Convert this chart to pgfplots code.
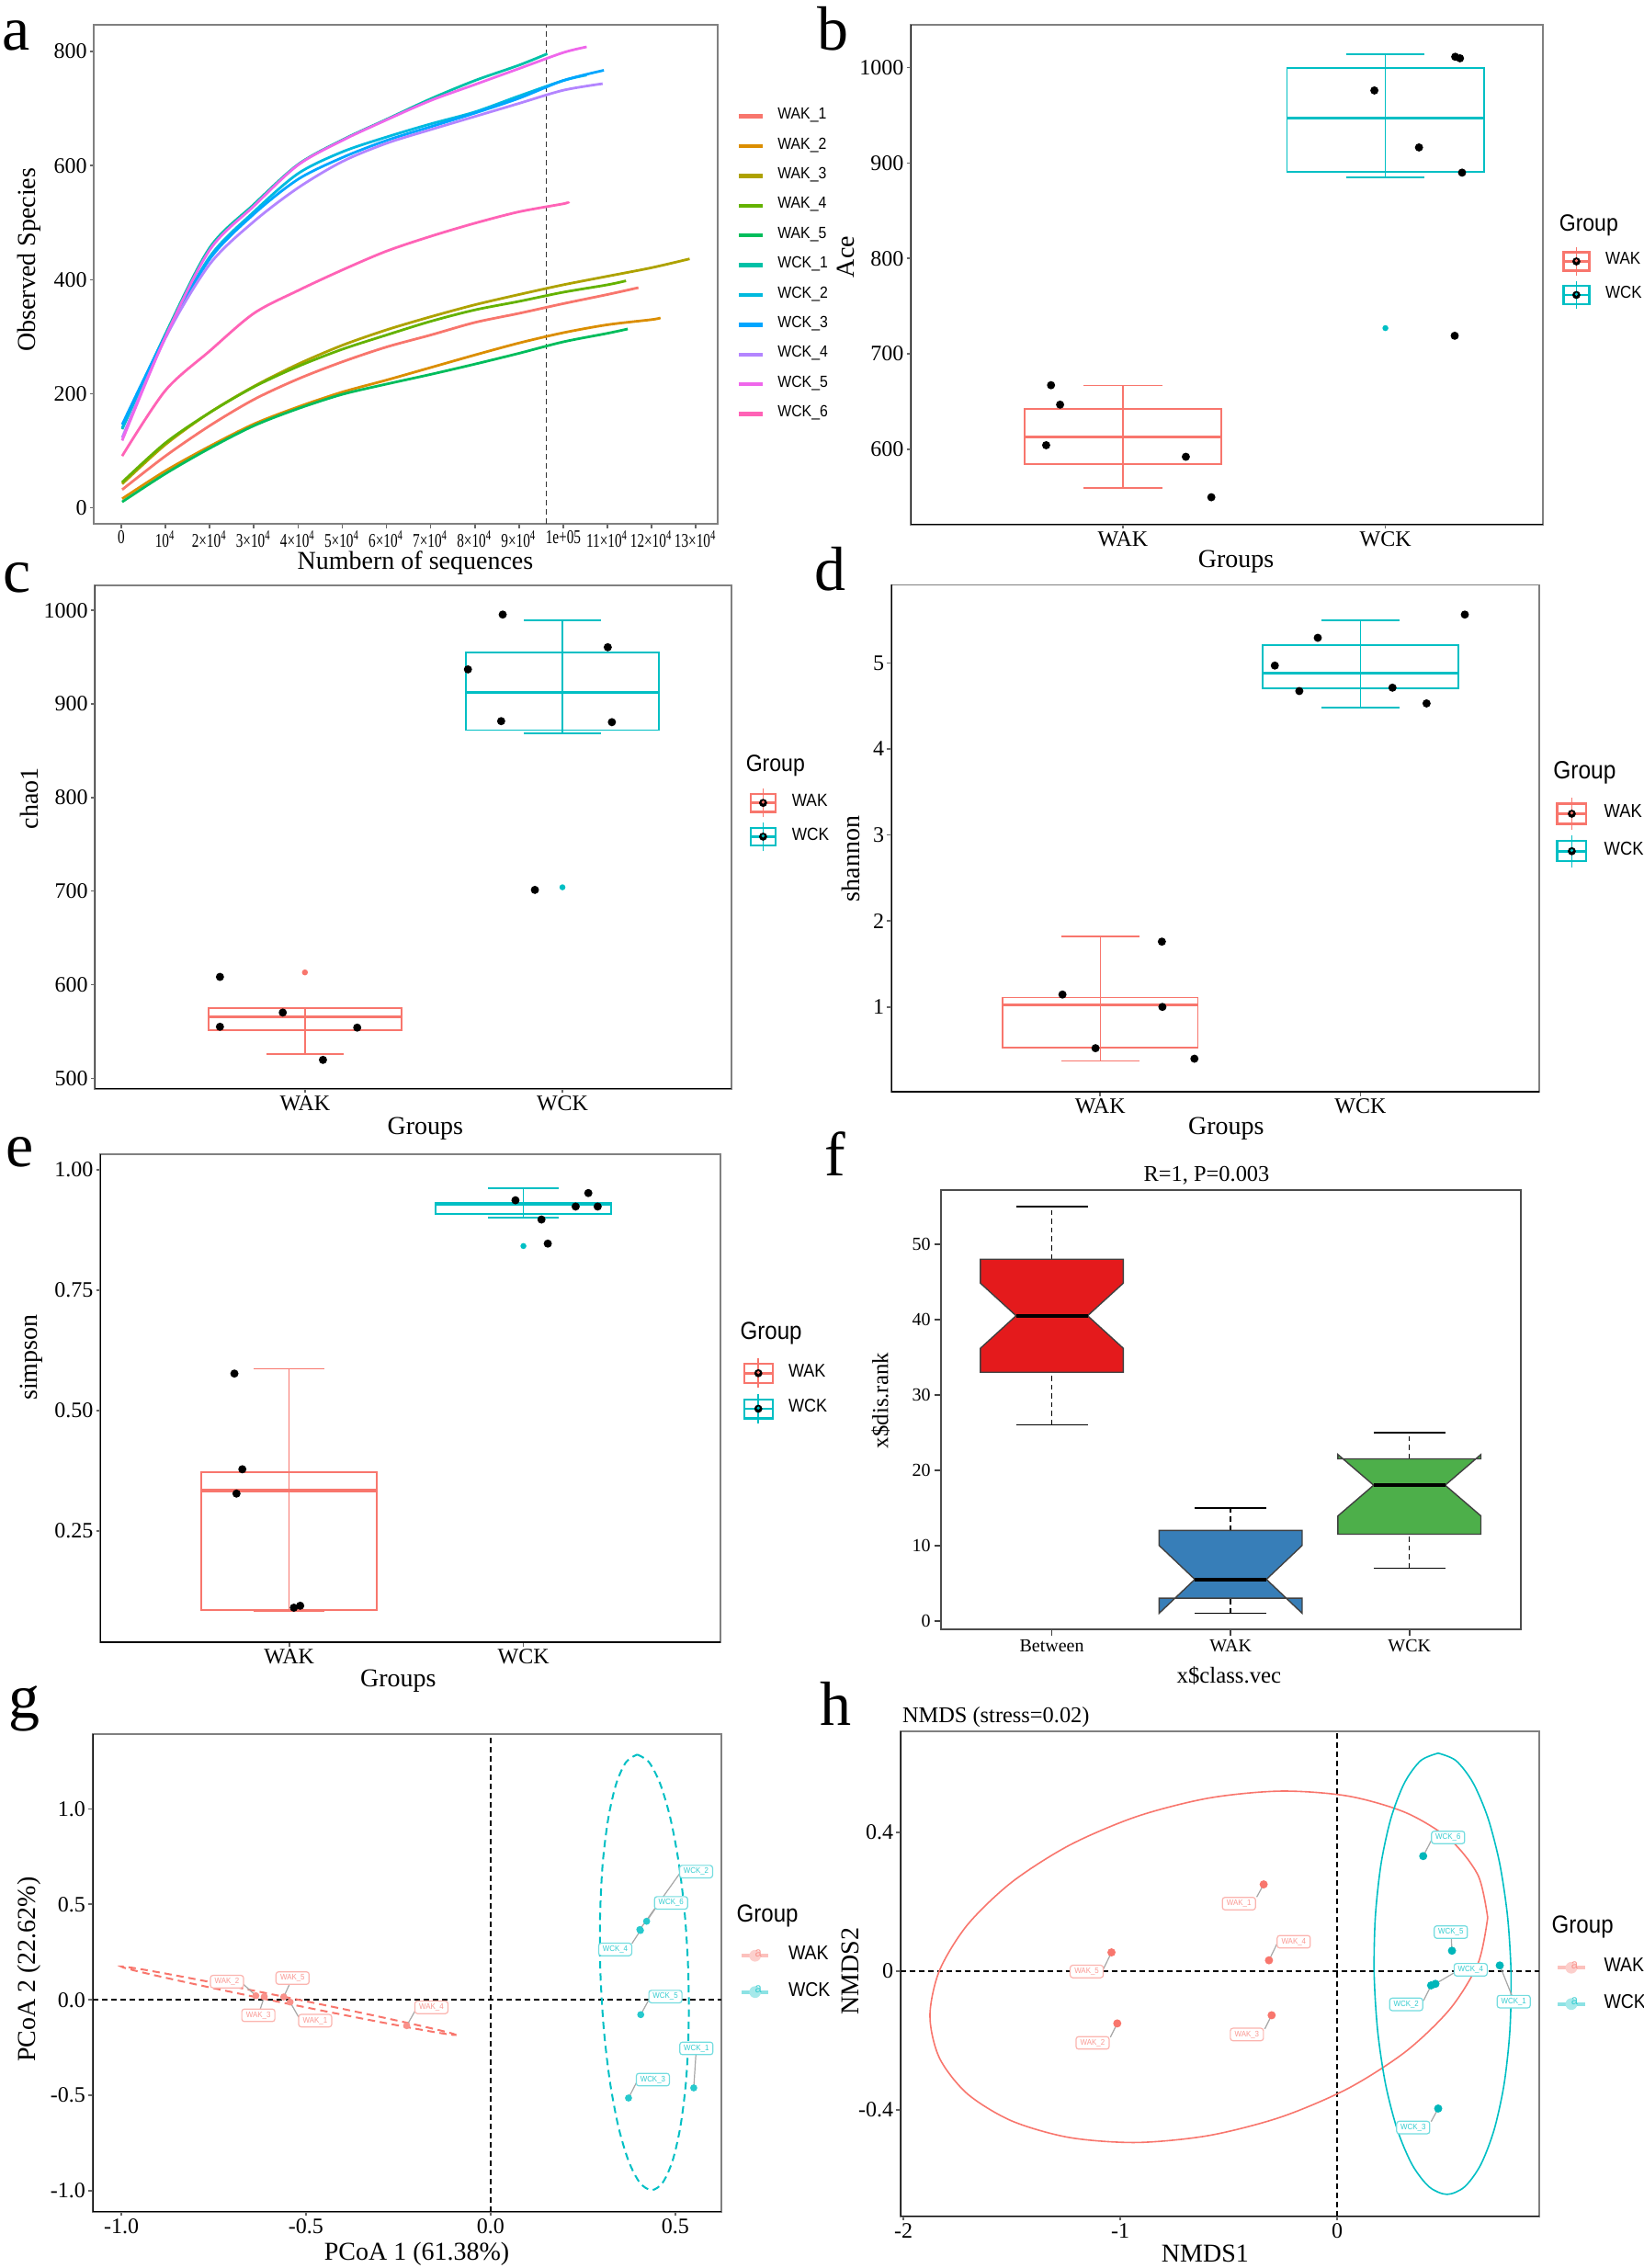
\documentclass[border=0pt]{standalone}
\usepackage{fontspec}
\setmainfont{Liberation Serif}
\newfontfamily\legfont[FakeStretch=0.9]{Liberation Sans}
\newfontfamily\condserif[FakeStretch=0.72]{Liberation Serif}
\usepackage{pgfplots}
\pgfplotsset{compat=1.18}
\definecolor{wakc}{HTML}{F8766D}
\definecolor{wckc}{HTML}{00BFC4}
\definecolor{cA}{HTML}{F8766D}
\definecolor{cB}{HTML}{DB8E00}
\definecolor{cC}{HTML}{AEA200}
\definecolor{cD}{HTML}{64B200}
\definecolor{cE}{HTML}{00BD5C}
\definecolor{cF}{HTML}{00C1A7}
\definecolor{cG}{HTML}{00BADE}
\definecolor{cH}{HTML}{00A6FF}
\definecolor{cI}{HTML}{B385FF}
\definecolor{cJ}{HTML}{EF67EB}
\definecolor{cK}{HTML}{FF63B6}
\definecolor{setred}{HTML}{E41A1C}
\definecolor{setblue}{HTML}{377EB8}
\definecolor{setgreen}{HTML}{4DAF4A}
\newcommand{\fs}[1]{\fontsize{#1}{#1}\selectfont}
\newcommand{\boxkey}[6]{%
  \path[draw=none, fill=none] (0pt,-#6) rectangle (#2,#6);%
  \draw[#1, fill=none, line width=0.4pt] (#3,-#5) -- (#3,#5);%
  \draw[#1, fill=none, line width=0.55pt] (0pt,-#4) rectangle (#2,#4);%
  \draw[#1, fill=none, line width=0.7pt] (0pt,0pt) -- (#2,0pt);%
  \fill[black, draw=none] (#3,0pt) circle (1.1pt);%
  \fill[#1, draw=none] (#3,0.2pt) circle (0.45pt);%
}
\newcommand{\labkey}[4]{%
  \path[draw=none, fill=none] (0pt,-#4) rectangle (#2,#4);%
  \draw[#1!45, fill=none, line width=0.9pt] (0pt,0pt) -- (#2,0pt);%
  \fill[#1!35, draw=none] (#3,0pt) circle (1.6pt);%
  \node[text=#1!75, draw=none, fill=none, font=\legfont\fs{3.6}, inner sep=0pt] at (#3,0pt) {a};%
}
\newcommand{\lbaxis}{\draw[black, line width=0.5pt] (rel axis cs:0,1) -- (rel axis cs:0,0) -- (rel axis cs:1,0);}
\tikzset{
  labw/.style={draw=wakc!55, fill=white, text=wakc!75, rounded corners=0.7pt, inner sep=0pt, minimum width=9pt, minimum height=3.4pt, line width=0.3pt, font=\legfont\fs{2.2}},
  labc/.style={draw=wckc!55, fill=white, text=wckc!80, rounded corners=0.7pt, inner sep=0pt, minimum width=9pt, minimum height=3.4pt, line width=0.3pt, font=\legfont\fs{2.2}},
}
\pgfplotsset{
  gg/.style={scale only axis, anchor=south west,
    axis line style={black!50, line width=0.45pt},
    tick align=outside, tick pos=left, major tick length=1.1pt,
    tick style={black!60, line width=0.4pt},
    ticklabel style={font=\fs{6}, inner sep=0.6pt},
    /pgf/number format/assume math mode=true,
    scaled ticks=false, legend cell align=left},
  leg/.style n args={4}{legend style={at={(axis description cs:#1,#2)}, anchor=north west, draw=none, fill=none, inner sep=0pt, outer sep=0pt, row sep=0pt, column sep=#3, nodes={inner sep=0pt, outer sep=0pt, font=\legfont\fs{#4}}}},
}
\begin{document}
\begin{tikzpicture}
\useasboundingbox (0pt,0pt) rectangle (447pt,-617pt);

% ================= a =================
\begin{axis}[gg, at={(25.55pt,-142.55pt)}, width=169.6pt, height=135.8pt,
  xmin=-6195, xmax=134865, ymin=-28.2, ymax=846.7,
  xtick={0,10000,20000,30000,40000,50000,60000,70000,80000,90000,100000,110000,120000,130000},
  xticklabels={0,10\textsuperscript{4},2×10\textsuperscript{4},3×10\textsuperscript{4},4×10\textsuperscript{4},5×10\textsuperscript{4},6×10\textsuperscript{4},7×10\textsuperscript{4},8×10\textsuperscript{4},9×10\textsuperscript{4},1e+05,11×10\textsuperscript{4},12×10\textsuperscript{4},13×10\textsuperscript{4}},
  xticklabel style={font=\condserif\fs{5.3}},
  ytick={0,200,400,600,800}, yticklabels={0,200,400,600,800},
  leg={1.0314}{0.8465}{3.5pt}{4.4},
  legend image code/.code={\path[draw=none, fill=none] (0pt,-4.05pt) rectangle (6.5pt,4.05pt); \draw[#1, line width=1.1pt] (0pt,0pt) -- (6.5pt,0pt);},
]
\addplot[black!80, line width=0.4pt, dash pattern=on 1.5pt off 1pt, forget plot] coordinates {(96200,-28.2) (96200,846.7)};
\addplot[cA, line width=0.7pt, smooth] coordinates {(200,32) (10000,91) (20000,144) (30000,190) (40000,226) (50000,256) (60000,282) (70000,303) (80000,325) (90000,341) (100000,358) (110000,374) (117000,386)};
\addlegendentry{WAK\_1}
\addplot[cB, line width=0.7pt, smooth] coordinates {(200,16) (10000,65) (20000,108) (30000,147) (40000,177) (50000,203) (60000,224) (70000,246) (80000,268) (90000,289) (100000,307) (110000,321) (120000,330) (122000,333)};
\addlegendentry{WAK\_2}
\addplot[cC, line width=0.7pt, smooth] coordinates {(200,42) (10000,111) (20000,167) (30000,213) (40000,252) (50000,285) (60000,312) (70000,335) (80000,356) (90000,374) (100000,391) (110000,406) (120000,421) (128600,436.5)};
\addlegendentry{WAK\_3}
\addplot[cD, line width=0.7pt, smooth] coordinates {(200,45) (10000,114) (20000,167) (30000,212) (40000,248) (50000,278) (60000,303) (70000,327) (80000,347) (90000,362) (100000,378) (110000,391) (114200,398)};
\addlegendentry{WAK\_4}
\addplot[cE, line width=0.7pt, smooth] coordinates {(200,10.5) (10000,60) (20000,104.5) (30000,144) (40000,174) (50000,199) (60000,217) (70000,234) (80000,252) (90000,271) (100000,291) (110000,306) (114600,313.6)};
\addlegendentry{WAK\_5}
\addplot[cF, line width=0.7pt, smooth] coordinates {(200,138) (10000,305) (20000,456) (30000,532) (40000,602) (50000,645) (60000,681) (70000,717) (80000,749) (90000,776) (96400,796)};
\addlegendentry{WCK\_1}
\addplot[cG, line width=0.7pt, smooth] coordinates {(200,140) (10000,300) (20000,440) (30000,519) (40000,586) (50000,624) (60000,650) (70000,673) (80000,694) (90000,722) (100000,749) (105300,758.6)};
\addlegendentry{WCK\_2}
\addplot[cH, line width=0.7pt, smooth] coordinates {(200,146) (10000,302) (20000,436) (30000,515) (40000,576) (50000,614) (60000,644) (70000,668) (80000,692) (90000,718) (100000,749) (109200,767)};
\addlegendentry{WCK\_3}
\addplot[cI, line width=0.7pt, smooth] coordinates {(200,123) (10000,298) (20000,427) (30000,502) (40000,561) (50000,607) (60000,639) (70000,663) (80000,686) (90000,709) (100000,732) (108900,743.5)};
\addlegendentry{WCK\_4}
\addplot[cJ, line width=0.7pt, smooth] coordinates {(200,118) (10000,300) (20000,452) (30000,529) (40000,601) (50000,644) (60000,680) (70000,714) (80000,742) (90000,770) (100000,798) (105300,808)};
\addlegendentry{WCK\_5}
\addplot[cK, line width=0.7pt, smooth] coordinates {(200,91) (10000,206) (20000,275) (30000,341) (40000,381) (50000,417) (60000,450) (70000,476) (80000,499) (90000,519) (100000,533) (101000,536)};
\addlegendentry{WCK\_6}
\end{axis}

% ================= b =================
\begin{axis}[gg, at={(247.75pt,-142.75pt)}, width=172pt, height=136pt,
  xmin=0.192, xmax=2.60, ymin=521, ymax=1044.8,
  xtick={1,2}, xticklabels={WAK,WCK},
  ytick={600,700,800,900,1000}, yticklabels={600,700,800,900,1000},
  leg={1.0305}{0.5602}{4.1pt}{4.7}]
\addplot[wakc, line width=0.35pt, forget plot] coordinates {(1,559.6) (1,666.8)};
\addplot[wakc, line width=0.45pt, forget plot] coordinates {(0.85,559.6) (1.15,559.6)};
\addplot[wakc, line width=0.45pt, forget plot] coordinates {(0.85,666.8) (1.15,666.8)};
\addplot[wakc, line width=0.45pt, forget plot] coordinates {(0.625,584.3) (1.375,584.3) (1.375,642.4) (0.625,642.4)} --cycle;
\addplot[wakc, line width=0.8pt, forget plot] coordinates {(0.625,613) (1.375,613)};
\addplot[wckc, line width=0.35pt, forget plot] coordinates {(2,885.3) (2,1013.7)};
\addplot[wckc, line width=0.45pt, forget plot] coordinates {(1.85,885.3) (2.15,885.3)};
\addplot[wckc, line width=0.45pt, forget plot] coordinates {(1.85,1013.7) (2.15,1013.7)};
\addplot[wckc, line width=0.45pt, forget plot] coordinates {(1.625,891.1) (2.375,891.1) (2.375,999.2) (1.625,999.2)} --cycle;
\addplot[wckc, line width=0.8pt, forget plot] coordinates {(1.625,946.9) (2.375,946.9)};
\addplot[only marks, mark=*, mark size=0.6pt, wckc, forget plot] coordinates {(2,727)};
\addplot[only marks, mark=*, mark size=0.9pt, black, forget plot] coordinates {(0.7265,667.2) (0.761,646.8) (0.708,604.3) (1.240,592.2) (1.337,549.8) (1.958,976) (2.128,916.3) (2.292,889.9) (2.266,1011.3) (2.284,1009.7) (2.264,719)};
\lbaxis
\addlegendimage{legend image code/.code={\boxkey{wakc}{7pt}{3.5pt}{2.5pt}{3.8pt}{4.5625pt}}}
\addlegendentry{WAK}
\addlegendimage{legend image code/.code={\boxkey{wckc}{7pt}{3.5pt}{2.5pt}{3.8pt}{4.5625pt}}}
\addlegendentry{WCK}
\end{axis}

% ================= c =================
\begin{axis}[gg, at={(25.825pt,-296.175pt)}, width=173.075pt, height=136.95pt,
  xmin=0.1845, xmax=2.655, ymin=488.8, ymax=1026.9,
  xtick={1,2}, xticklabels={WAK,WCK},
  ytick={500,600,700,800,900,1000}, yticklabels={500,600,700,800,900,1000},
  leg={1.0283}{0.6012}{4.05pt}{4.8}]
\addplot[wakc, line width=0.35pt, forget plot] coordinates {(1,526.1) (1,575.0)};
\addplot[wakc, line width=0.45pt, forget plot] coordinates {(0.85,526.1) (1.15,526.1)};
\addplot[wakc, line width=0.45pt, forget plot] coordinates {(0.625,551.4) (1.375,551.4) (1.375,575.0) (0.625,575.0)} --cycle;
\addplot[wakc, line width=0.8pt, forget plot] coordinates {(0.625,565.8) (1.375,565.8)};
\addplot[wckc, line width=0.35pt, forget plot] coordinates {(2,868.9) (2,989.2)};
\addplot[wckc, line width=0.45pt, forget plot] coordinates {(1.85,868.9) (2.15,868.9)};
\addplot[wckc, line width=0.45pt, forget plot] coordinates {(1.85,989.2) (2.15,989.2)};
\addplot[wckc, line width=0.45pt, forget plot] coordinates {(1.625,872.1) (2.375,872.1) (2.375,955.1) (1.625,955.1)} --cycle;
\addplot[wckc, line width=0.8pt, forget plot] coordinates {(1.625,912.2) (2.375,912.2)};
\addplot[only marks, mark=*, mark size=0.6pt, wakc, forget plot] coordinates {(1.0,613.1)};
\addplot[only marks, mark=*, mark size=0.6pt, wckc, forget plot] coordinates {(2,704.1)};
\addplot[only marks, mark=*, mark size=0.9pt, black, forget plot] coordinates {(0.670,608.3) (0.914,570.2) (0.670,555) (1.203,554.1) (1.070,519.6) (1.768,995.6) (2.176,960.7) (1.633,937) (1.762,881.7) (2.192,880.6) (1.893,701.3)};
\lbaxis
\addlegendimage{legend image code/.code={\boxkey{wakc}{6.9pt}{3.45pt}{2.45pt}{3.9pt}{4.5875pt}}}
\addlegendentry{WAK}
\addlegendimage{legend image code/.code={\boxkey{wckc}{6.9pt}{3.45pt}{2.45pt}{3.9pt}{4.5875pt}}}
\addlegendentry{WCK}
\end{axis}

% ================= d =================
\begin{axis}[gg, at={(242.45pt,-297.1pt)}, width=176.3pt, height=137.975pt,
  xmin=0.197, xmax=2.687, ymin=0.0096, ymax=5.907,
  xtick={1,2}, xticklabels={WAK,WCK},
  ytick={1,2,3,4,5}, yticklabels={1,2,3,4,5},
  leg={1.0257}{0.5858}{4.5pt}{5.1}]
\addplot[wakc, line width=0.35pt, forget plot] coordinates {(1,0.372) (1,1.824)};
\addplot[wakc, line width=0.45pt, forget plot] coordinates {(0.85,0.372) (1.15,0.372)};
\addplot[wakc, line width=0.45pt, forget plot] coordinates {(0.85,1.824) (1.15,1.824)};
\addplot[wakc, line width=0.45pt, forget plot] coordinates {(0.625,0.529) (1.375,0.529) (1.375,1.109) (0.625,1.109)} --cycle;
\addplot[wakc, line width=0.8pt, forget plot] coordinates {(0.625,1.026) (1.375,1.026)};
\addplot[wckc, line width=0.35pt, forget plot] coordinates {(2,4.481) (2,5.493)};
\addplot[wckc, line width=0.45pt, forget plot] coordinates {(1.85,4.481) (2.15,4.481)};
\addplot[wckc, line width=0.45pt, forget plot] coordinates {(1.85,5.493) (2.15,5.493)};
\addplot[wckc, line width=0.45pt, forget plot] coordinates {(1.625,4.707) (2.375,4.707) (2.375,5.209) (1.625,5.209)} --cycle;
\addplot[wckc, line width=0.8pt, forget plot] coordinates {(1.625,4.882) (2.375,4.882)};
\addplot[only marks, mark=*, mark size=0.9pt, black, forget plot] coordinates {(0.855,1.144) (0.982,0.520) (1.237,1.759) (1.239,1.0) (1.362,0.398) (1.671,4.969) (1.765,4.673) (1.836,5.292) (2.123,4.712) (2.254,4.529) (2.401,5.562)};
\lbaxis
\addlegendimage{legend image code/.code={\boxkey{wakc}{7.95pt}{3.975pt}{2.75pt}{4.4pt}{5.1pt}}}
\addlegendentry{WAK}
\addlegendimage{legend image code/.code={\boxkey{wckc}{7.95pt}{3.975pt}{2.75pt}{4.4pt}{5.1pt}}}
\addlegendentry{WCK}
\end{axis}

% ================= e =================
\begin{axis}[gg, at={(27.25pt,-446.825pt)}, width=168.8pt, height=132.85pt,
  xmin=0.193, xmax=2.842, ymin=0.0187, ymax=1.0328,
  xtick={1,2}, xticklabels={WAK,WCK},
  ytick={0.25,0.5,0.75,1}, yticklabels={0.25,0.50,0.75,1.00},
  leg={1.0357}{0.5878}{4pt}{5}]
\addplot[wakc, line width=0.35pt, forget plot] coordinates {(1,0.0847) (1,0.5872)};
\addplot[wakc, line width=0.45pt, forget plot] coordinates {(0.85,0.0847) (1.15,0.0847)};
\addplot[wakc, line width=0.45pt, forget plot] coordinates {(0.85,0.5872) (1.15,0.5872)};
\addplot[wakc, line width=0.45pt, forget plot] coordinates {(0.625,0.0865) (1.375,0.0865) (1.375,0.3731) (0.625,0.3731)} --cycle;
\addplot[wakc, line width=0.8pt, forget plot] coordinates {(0.625,0.3342) (1.375,0.3342)};
\addplot[wckc, line width=0.35pt, forget plot] coordinates {(2,0.9004) (2,0.9626)};
\addplot[wckc, line width=0.45pt, forget plot] coordinates {(1.85,0.9004) (2.15,0.9004)};
\addplot[wckc, line width=0.45pt, forget plot] coordinates {(1.85,0.9626) (2.15,0.9626)};
\addplot[wckc, line width=0.45pt, forget plot] coordinates {(1.625,0.9082) (2.375,0.9082) (2.375,0.9323) (1.625,0.9323)} --cycle;
\addplot[wckc, line width=0.8pt, forget plot] coordinates {(1.625,0.9284) (2.375,0.9284)};
\addplot[only marks, mark=*, mark size=0.6pt, wckc, forget plot] coordinates {(2,0.842)};
\addplot[only marks, mark=*, mark size=0.9pt, black, forget plot] coordinates {(0.766,0.5771) (0.800,0.3784) (0.775,0.3279) (1.020,0.0910) (1.047,0.0950) (1.966,0.937) (2.077,0.897) (2.223,0.924) (2.277,0.952) (2.317,0.924) (2.104,0.847)};
\lbaxis
\addlegendimage{legend image code/.code={\boxkey{wakc}{7.75pt}{3.875pt}{2.6pt}{4pt}{4.8375pt}}}
\addlegendentry{WAK}
\addlegendimage{legend image code/.code={\boxkey{wckc}{7.75pt}{3.875pt}{2.6pt}{4pt}{4.8375pt}}}
\addlegendentry{WCK}
\end{axis}

% ================= f =================
\begin{axis}[scale only axis, anchor=south west, at={(255.9pt,-443.275pt)}, width=157.775pt, height=119.6pt,
  xmin=0.378, xmax=3.622, ymin=-1.147, ymax=57.22,
  axis line style={black!70, line width=0.45pt},
  tick align=outside, tick pos=left, major tick length=1.75pt,
  tick style={black!75, line width=0.4pt},
  ticklabel style={font=\fs{5}, inner sep=0.8pt},
  /pgf/number format/assume math mode=true,
  xtick={1,2,3}, xticklabels={Between,WAK,WCK},
  ytick={0,10,20,30,40,50}, yticklabels={0,10,20,30,40,50}]
\addplot[black, line width=0.35pt, dash pattern=on 1.4pt off 1pt] coordinates {(1,26) (1,33)};
\addplot[black, line width=0.35pt, dash pattern=on 1.4pt off 1pt] coordinates {(1,48) (1,55)};
\addplot[black, line width=0.4pt] coordinates {(0.8,26) (1.2,26)};
\addplot[black, line width=0.4pt] coordinates {(0.8,55) (1.2,55)};
\addplot[fill=setred, draw=black!75, line width=0.35pt] coordinates {(0.6,33) (1.4,33) (1.4,36.17) (1.2,40.5) (1.4,44.83) (1.4,48) (0.6,48) (0.6,44.83) (0.8,40.5) (0.6,36.17)} --cycle;
\addplot[black, line width=1pt] coordinates {(0.8,40.5) (1.2,40.5)};
\addplot[black, line width=0.35pt, dash pattern=on 1.4pt off 1pt] coordinates {(2,1) (2,3)};
\addplot[black, line width=0.35pt, dash pattern=on 1.4pt off 1pt] coordinates {(2,12) (2,15)};
\addplot[black, line width=0.4pt] coordinates {(1.8,1) (2.2,1)};
\addplot[black, line width=0.4pt] coordinates {(1.8,15) (2.2,15)};
\addplot[fill=setblue, draw=black!75, line width=0.35pt] coordinates {(1.6,3) (2.4,3) (2.4,1.0) (2.2,5.5) (2.4,10.0) (2.4,12) (1.6,12) (1.6,10.0) (1.8,5.5) (1.6,1.0)} --cycle;
\addplot[black, line width=1pt] coordinates {(1.8,5.5) (2.2,5.5)};
\addplot[black, line width=0.35pt, dash pattern=on 1.4pt off 1pt] coordinates {(3,7) (3,11.5)};
\addplot[black, line width=0.35pt, dash pattern=on 1.4pt off 1pt] coordinates {(3,21.5) (3,25)};
\addplot[black, line width=0.4pt] coordinates {(2.8,7) (3.2,7)};
\addplot[black, line width=0.4pt] coordinates {(2.8,25) (3.2,25)};
\addplot[fill=setgreen, draw=black!75, line width=0.35pt] coordinates {(2.6,11.5) (3.4,11.5) (3.4,13.92) (3.2,18) (3.4,22.08) (3.4,21.5) (2.6,21.5) (2.6,22.08) (2.8,18) (2.6,13.92)} --cycle;
\addplot[black, line width=1pt] coordinates {(2.8,18) (3.2,18)};
\end{axis}

% ================= g =================
\begin{axis}[gg, at={(25.125pt,-601.725pt)}, width=171.2pt, height=129.975pt,
  xmin=-1.0784, xmax=0.6257, ymin=-1.1097, ymax=1.391,
  xtick={-1,-0.5,0,0.5}, xticklabels={-1.0,-0.5,0.0,0.5},
  ytick={-1,-0.5,0,0.5,1}, yticklabels={-1.0,-0.5,0.0,0.5,1.0},
  leg={1.0292}{0.5741}{5pt}{5.4}]
\addplot[black, line width=0.45pt, dash pattern=on 1.5pt off 1pt, forget plot] coordinates {(-1.0784,0) (0.6257,0)};
\addplot[black, line width=0.35pt, dash pattern=on 1.5pt off 1pt, forget plot] coordinates {(0,-1.1097) (0,1.391)};
\addplot[wakc, line width=0.5pt, dash pattern=on 2pt off 1.3pt, smooth, forget plot] coordinates {(-0.0928,-0.1842) (-0.1069,-0.1745) (-0.1509,-0.1532) (-0.2218,-0.1218) (-0.3148,-0.0825) (-0.4237,-0.0379) (-0.5409,0.0090) (-0.6585,0.0549) (-0.7684,0.0967) (-0.8632,0.1316) (-0.9365,0.1572) (-0.9831,0.1717) (-1.0000,0.1742) (-0.9859,0.1645) (-0.9420,0.1432) (-0.8710,0.1118) (-0.7780,0.0725) (-0.6691,0.0279) (-0.5519,-0.0190) (-0.4343,-0.0649) (-0.3244,-0.1067) (-0.2296,-0.1416) (-0.1564,-0.1672) (-0.1097,-0.1817) (-0.0928,-0.1842)};
\addplot[wckc, line width=0.5pt, dash pattern=on 2pt off 1.3pt, smooth, forget plot] coordinates {(0.3971,1.2838) (0.4286,1.2450) (0.4592,1.1311) (0.4869,0.9499) (0.5098,0.7139) (0.5263,0.4389) (0.5354,0.1439) (0.5363,-0.1511) (0.5292,-0.4261) (0.5141,-0.6621) (0.4926,-0.8433) (0.4658,-0.9572) (0.4357,-0.9960) (0.4042,-0.9572) (0.3736,-0.8433) (0.3459,-0.6621) (0.3230,-0.4261) (0.3065,-0.1511) (0.2974,0.1439) (0.2965,0.4389) (0.3036,0.7139) (0.3187,0.9499) (0.3402,1.1311) (0.3670,1.2450) (0.3971,1.2838)};
\addplot[black!35, line width=0.3pt, forget plot] coordinates {(-0.6357,0.0216) (-0.6691,0.0812)};
\addplot[black!35, line width=0.3pt, forget plot] coordinates {(-0.6128,0.0173) (-0.6235,-0.0471)};
\addplot[black!35, line width=0.3pt, forget plot] coordinates {(-0.5601,0.0154) (-0.5447,0.0813)};
\addplot[black!35, line width=0.3pt, forget plot] coordinates {(-0.5429,-0.0115) (-0.5198,-0.0904)};
\addplot[black!35, line width=0.3pt, forget plot] coordinates {(-0.2272,-0.1352) (-0.2045,-0.0582)};
\addplot[black!35, line width=0.3pt, forget plot] coordinates {(0.4041,0.3680) (0.5128,0.6633)};
\addplot[black!35, line width=0.3pt, forget plot] coordinates {(0.4225,0.4113) (0.4464,0.4786)};
\addplot[black!35, line width=0.3pt, forget plot] coordinates {(0.4058,0.3632) (0.3827,0.2944)};
\addplot[black!35, line width=0.3pt, forget plot] coordinates {(0.4066,-0.0774) (0.4300,0.0058)};
\addplot[black!35, line width=0.3pt, forget plot] coordinates {(0.5501,-0.4608) (0.5559,-0.2876)};
\addplot[black!35, line width=0.3pt, forget plot] coordinates {(0.3735,-0.5137) (0.3966,-0.4271)};
\addplot[only marks, mark=*, mark size=0.75pt, wakc!80, forget plot] coordinates {(-0.6357,0.0216) (-0.6128,0.0173) (-0.5601,0.0154) (-0.5429,-0.0115) (-0.2272,-0.1352)};
\addplot[only marks, mark=*, mark size=0.75pt, wckc!85, forget plot] coordinates {(0.4225,0.4113) (0.4041,0.3680) (0.4058,0.3632) (0.4066,-0.0774) (0.3735,-0.5137) (0.5501,-0.4608)};
\node[labw] at (axis cs:-0.7139,0.0955) {WAK\_2};
\node[labw] at (axis cs:-0.5363,0.1140) {WAK\_5};
\node[labw] at (axis cs:-0.6289,-0.0808) {WAK\_3};
\node[labw] at (axis cs:-0.4750,-0.1089) {WAK\_1};
\node[labw] at (axis cs:-0.1603,-0.0392) {WAK\_4};
\node[labc] at (axis cs:0.5564,0.6712) {WCK\_2};
\node[labc] at (axis cs:0.4887,0.5077) {WCK\_6};
\node[labc] at (axis cs:0.3374,0.2638) {WCK\_4};
\node[labc] at (axis cs:0.4734,0.0171) {WCK\_5};
\node[labc] at (axis cs:0.5572,-0.2540) {WCK\_1};
\node[labc] at (axis cs:0.4394,-0.4175) {WCK\_3};
\lbaxis
\addlegendimage{legend image code/.code={\labkey{wakc}{7.3pt}{3.65pt}{4.94pt}}}
\addlegendentry{WAK}
\addlegendimage{legend image code/.code={\labkey{wckc}{7.3pt}{3.65pt}{4.94pt}}}
\addlegendentry{WCK}
\end{axis}

% ================= h =================
\begin{axis}[gg, at={(244.9pt,-602.95pt)}, width=173.85pt, height=131.925pt,
  xmin=-2.0148, xmax=0.9324, ymin=-0.7074, ymax=0.6913,
  xtick={-2,-1,0}, xticklabels={-2,-1,0},
  ytick={-0.4,0,0.4}, yticklabels={-0.4,0,0.4},
  leg={1.0266}{0.5502}{4.8pt}{5.4}]
\addplot[black, line width=0.45pt, dash pattern=on 1.5pt off 1pt, forget plot] coordinates {(-2.0148,0) (0.9324,0)};
\addplot[black, line width=0.35pt, dash pattern=on 1.5pt off 1pt, forget plot] coordinates {(0,-0.7074) (0,0.6913)};
\addplot[wakc, line width=0.4pt, smooth, forget plot] coordinates {(0.6945,0.1543) (0.6507,0.2755) (0.5222,0.3787) (0.3178,0.4569) (0.0515,0.5049) (-0.2588,0.5193) (-0.5916,0.4992) (-0.9244,0.4459) (-1.2347,0.3631) (-1.5010,0.2563) (-1.7054,0.1331) (-1.8339,0.0015) (-1.8777,-0.1293) (-1.8339,-0.2505) (-1.7054,-0.3537) (-1.5010,-0.4319) (-1.2347,-0.4799) (-0.9244,-0.4943) (-0.5916,-0.4742) (-0.2588,-0.4209) (0.0515,-0.3381) (0.3178,-0.2313) (0.5222,-0.1081) (0.6507,0.0235) (0.6945,0.1543)};
\addplot[wckc, line width=0.4pt, smooth, forget plot] coordinates {(0.4662,0.6287) (0.5486,0.6070) (0.6268,0.5434) (0.6954,0.4423) (0.7498,0.3106) (0.7862,0.1571) (0.8023,-0.0076) (0.7968,-0.1723) (0.7702,-0.3258) (0.7242,-0.4575) (0.6622,-0.5586) (0.5880,-0.6222) (0.5070,-0.6439) (0.4246,-0.6222) (0.3464,-0.5586) (0.2778,-0.4575) (0.2234,-0.3258) (0.1870,-0.1723) (0.1709,-0.0076) (0.1764,0.1571) (0.2030,0.3106) (0.2490,0.4423) (0.3110,0.5434) (0.3852,0.6070) (0.4662,0.6287)};
\addplot[black!35, line width=0.3pt, forget plot] coordinates {(-0.3386,0.2502) (-0.3708,0.2136)};
\addplot[black!35, line width=0.3pt, forget plot] coordinates {(-0.3141,0.0313) (-0.2772,0.0787)};
\addplot[black!35, line width=0.3pt, forget plot] coordinates {(-1.0405,0.0541) (-1.0799,0.0032)};
\addplot[black!35, line width=0.3pt, forget plot] coordinates {(-1.0138,-0.1508) (-1.0456,-0.1908)};
\addplot[black!35, line width=0.3pt, forget plot] coordinates {(-0.3018,-0.1272) (-0.3340,-0.1670)};
\addplot[black!35, line width=0.3pt, forget plot] coordinates {(0.3971,0.3318) (0.4336,0.3758)};
\addplot[black!35, line width=0.3pt, forget plot] coordinates {(0.5298,0.0588) (0.5268,0.0941)};
\addplot[black!35, line width=0.3pt, forget plot] coordinates {(0.4535,-0.0366) (0.5370,-0.0058)};
\addplot[black!35, line width=0.3pt, forget plot] coordinates {(0.4336,-0.0411) (0.3984,-0.0853)};
\addplot[black!35, line width=0.3pt, forget plot] coordinates {(0.7502,0.0164) (0.8053,-0.0694)};
\addplot[black!35, line width=0.3pt, forget plot] coordinates {(0.4662,-0.3963) (0.4336,-0.4341)};
\addplot[only marks, mark=*, mark size=0.9pt, wakc, forget plot] coordinates {(-0.3386,0.2502) (-0.3141,0.0313) (-1.0405,0.0541) (-1.0138,-0.1508) (-0.3018,-0.1272)};
\addplot[only marks, mark=*, mark size=0.9pt, wckc!95!black, forget plot] coordinates {(0.3971,0.3318) (0.5298,0.0588) (0.7502,0.0164) (0.4336,-0.0411) (0.4535,-0.0366) (0.4662,-0.3963)};
\node[labw] at (axis cs:-0.4526,0.1947) {WAK\_1};
\node[labw] at (axis cs:-0.2000,0.0847) {WAK\_4};
\node[labw] at (axis cs:-1.1547,-0.0011) {WAK\_5};
\node[labw] at (axis cs:-1.1276,-0.2070) {WAK\_2};
\node[labw] at (axis cs:-0.4160,-0.1827) {WAK\_3};
\node[labc] at (axis cs:0.5120,0.3856) {WCK\_6};
\node[labc] at (axis cs:0.5247,0.1126) {WCK\_5};
\node[labc] at (axis cs:0.6160,0.0040) {WCK\_4};
\node[labc] at (axis cs:0.3187,-0.0959) {WCK\_2};
\node[labc] at (axis cs:0.8146,-0.0880) {WCK\_1};
\node[labc] at (axis cs:0.3509,-0.4511) {WCK\_3};
\lbaxis
\addlegendimage{legend image code/.code={\labkey{wakc}{7.3pt}{3.65pt}{4.94pt}}}
\addlegendentry{WAK}
\addlegendimage{legend image code/.code={\labkey{wckc}{7.3pt}{3.65pt}{4.94pt}}}
\addlegendentry{WCK}
\end{axis}

% ================= texts =================
\begin{scope}[every node/.style={inner sep=0pt}]
\node[anchor=base west, font=\fs{17}] at (0.5pt,-13.75pt) {a};
\node[anchor=base west, font=\fs{17}] at (222.25pt,-13.75pt) {b};
\node[anchor=base west, font=\fs{17}] at (0.75pt,-161.25pt) {c};
\node[anchor=base west, font=\fs{17}] at (221.5pt,-160.75pt) {d};
\node[anchor=base west, font=\fs{17}] at (1.5pt,-317.25pt) {e};
\node[anchor=base west, font=\fs{17}] at (224.25pt,-319.75pt) {f};
\node[anchor=base west, font=\fs{17}] at (2.25pt,-467.25pt) {g};
\node[anchor=base west, font=\fs{17}] at (223pt,-469.25pt) {h};

\node[rotate=90, font=\fs{7}] at (7.9pt,-70.7pt) {Observed Species};
\node[font=\fs{7}] at (113pt,-153.05pt) {Numbern of sequences};
\node[rotate=90, font=\fs{7}] at (230.1pt,-69.9pt) {Ace};
\node[font=\fs{7}] at (336.25pt,-152.75pt) {Groups};
\node[rotate=90, font=\fs{7}] at (7.9pt,-217.25pt) {chao1};
\node[font=\fs{7}] at (115.7pt,-307pt) {Groups};
\node[rotate=90, font=\fs{7}] at (231.6pt,-233.6pt) {shannon};
\node[font=\fs{7}] at (333.6pt,-307.1pt) {Groups};
\node[rotate=90, font=\fs{7}] at (8.6pt,-369.25pt) {simpson};
\node[font=\fs{7}] at (108.35pt,-457.35pt) {Groups};
\node[rotate=90, font=\fs{6.2}] at (239.55pt,-381pt) {x\$dis.rank};
\node[font=\fs{6.2}] at (334.35pt,-455.8pt) {x\$class.vec};
\node[font=\fs{6.1}] at (328.25pt,-319.75pt) {R=1, P=0.003};
\node[rotate=90, font=\fs{7}] at (7.9pt,-535.8pt) {PCoA 2 (22.62\%)};
\node[font=\fs{7}] at (113.4pt,-613.1pt) {PCoA 1 (61.38\%)};
\node[rotate=90, font=\fs{7}] at (231.25pt,-536.3pt) {NMDS2};
\node[font=\fs{7}] at (327.85pt,-613.1pt) {NMDS1};
\node[anchor=west, font=\fs{6.1}] at (245.3pt,-467.15pt) {NMDS (stress=0.02)};

\node[anchor=west, font=\legfont\fs{6.4}] at (424pt,-61.25pt) {Group};
\node[anchor=west, font=\legfont\fs{6.4}] at (202.75pt,-208.4pt) {Group};
\node[anchor=west, font=\legfont\fs{6.8}] at (422.4pt,-210.15pt) {Group};
\node[anchor=west, font=\legfont\fs{6.7}] at (201.2pt,-362.85pt) {Group};
\node[anchor=west, font=\legfont\fs{6.7}] at (200.2pt,-521.1pt) {Group};
\node[anchor=west, font=\legfont\fs{6.7}] at (421.95pt,-524.1pt) {Group};
\end{scope}
\end{tikzpicture}
\end{document}
